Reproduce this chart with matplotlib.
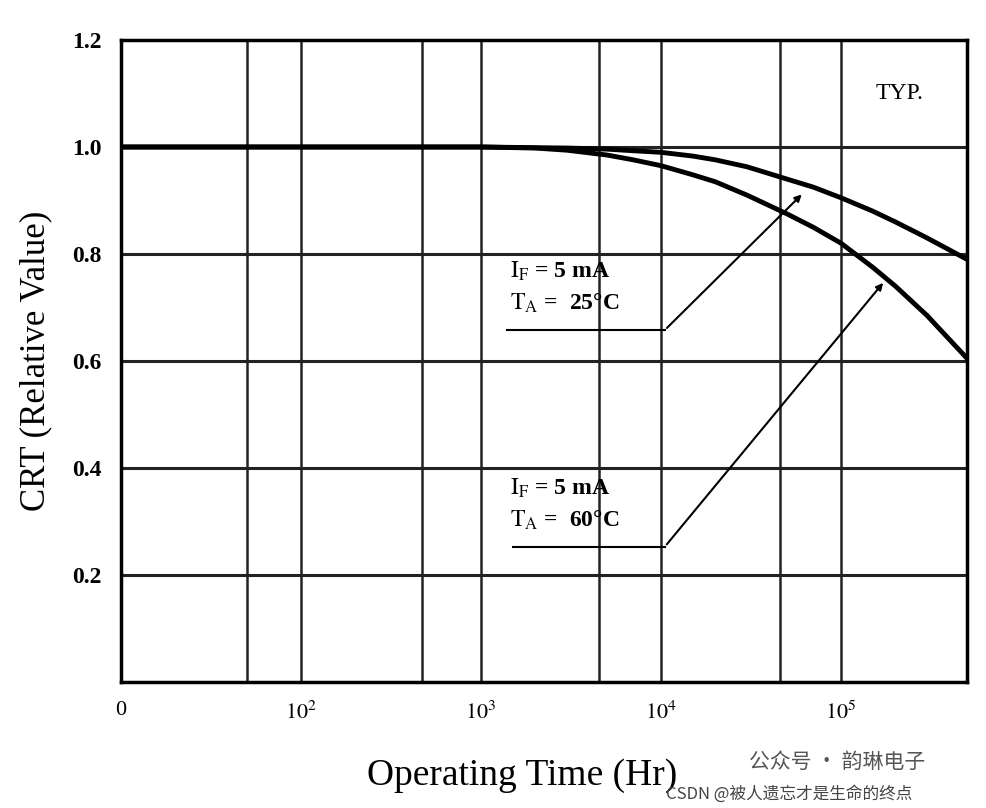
import matplotlib.pyplot as plt
import numpy as np

# CTR degradation vs operating time
t_25 = [10, 100, 1000, 3000, 5000, 7000, 10000, 15000, 20000, 30000, 50000, 70000,
        100000, 150000, 200000, 300000, 500000]
ctr_25 = [1.0, 1.0, 1.0, 0.998, 0.996, 0.993, 0.99, 0.983, 0.976, 0.963, 0.94, 0.925,
          0.905, 0.88, 0.86, 0.83, 0.79]
t_60 = [10, 100, 1000, 2000, 3000, 5000, 7000, 10000, 15000, 20000, 30000, 50000, 70000,
        100000, 150000, 200000, 300000, 500000]
ctr_60 = [1.0, 1.0, 1.0, 0.998, 0.994, 0.985, 0.976, 0.965, 0.948, 0.935, 0.91, 0.875, 0.85,
          0.82, 0.775, 0.74, 0.685, 0.605]

x_grid = [50, 100, 470, 1000, 4500, 10000, 46000, 100000]
x_ticks = [10, 100, 1000, 10000, 100000]
x_ticklabels = ['0', '$10^2$', '$10^3$', '$10^4$', '$10^5$']
y_ticks = [0.2, 0.4, 0.6, 0.8, 1.0, 1.2]

plt.rcParams['font.family'] = ['Liberation Serif', 'DejaVu Serif']
plt.rcParams['mathtext.fontset'] = 'stix'

fig = plt.figure(figsize=(9.86, 8.08), dpi=100)
ax = fig.add_axes([0.1227, 0.156, 0.858, 0.7945])
ax.set_xscale('log')
ax.set_xlim(10, 5e5)
ax.set_ylim(0, 1.2)

for xv in x_grid:
    ax.axvline(xv, color='#222', lw=1.8)
for yv in y_ticks[:-1]:
    ax.axhline(yv, color='#222', lw=2.2)

ax.plot(t_25, ctr_25, color='black', lw=3.5)
ax.plot(t_60, ctr_60, color='black', lw=3.5)

ax.set_xticks(x_ticks)
ax.set_xticklabels(x_ticklabels, fontsize=16)
ax.minorticks_off()
ax.set_yticks(y_ticks)
ax.set_yticklabels(['%.1f' % v for v in y_ticks], fontsize=17, fontweight='bold')
ax.tick_params(length=0, pad=14)
for s in ax.spines.values():
    s.set_linewidth(2.5)

ax.text(6.5e5 / 4.2, 1.10, 'TYP.', fontsize=17, ha='left', va='center')

# annotations
ax.text(1.45e3, 0.755, '$\\mathrm{I_F}$ = 5 mA', fontsize=17, fontweight='bold')
ax.text(1.45e3, 0.695, '$\\mathrm{T_A}$ =  25°C', fontsize=17, fontweight='bold')
ax.plot([1.4e3, 1.05e4], [0.658, 0.658], color='black', lw=1.5)
ax.annotate('', xy=(6.2e4, 0.915), xytext=(1.05e4, 0.658),
            arrowprops=dict(arrowstyle='-|>', color='black', lw=1.5))
ax.text(1.45e3, 0.35, '$\\mathrm{I_F}$ = 5 mA', fontsize=17, fontweight='bold')
ax.text(1.45e3, 0.29, '$\\mathrm{T_A}$ =  60°C', fontsize=17, fontweight='bold')
ax.plot([1.5e3, 1.05e4], [0.253, 0.253], color='black', lw=1.5)
ax.annotate('', xy=(1.75e5, 0.75), xytext=(1.05e4, 0.253),
            arrowprops=dict(arrowstyle='-|>', color='black', lw=1.5))

ax.set_ylabel('CRT (Relative Value)', fontsize=25, labelpad=14)
fig.text(0.53, 0.04, 'Operating Time (Hr)', fontsize=27, ha='center', va='center')

cjk = ['Noto Sans CJK SC', 'DejaVu Sans']
fig.text(0.76, 0.05, '公众号 · 韵琳电子', fontsize=15, color='#555', family=cjk)
fig.text(0.675, 0.012, 'CSDN @被人遗忘才是生命的终点', fontsize=12, color='#444', family=cjk)

fig.savefig('out.png', dpi=100)
